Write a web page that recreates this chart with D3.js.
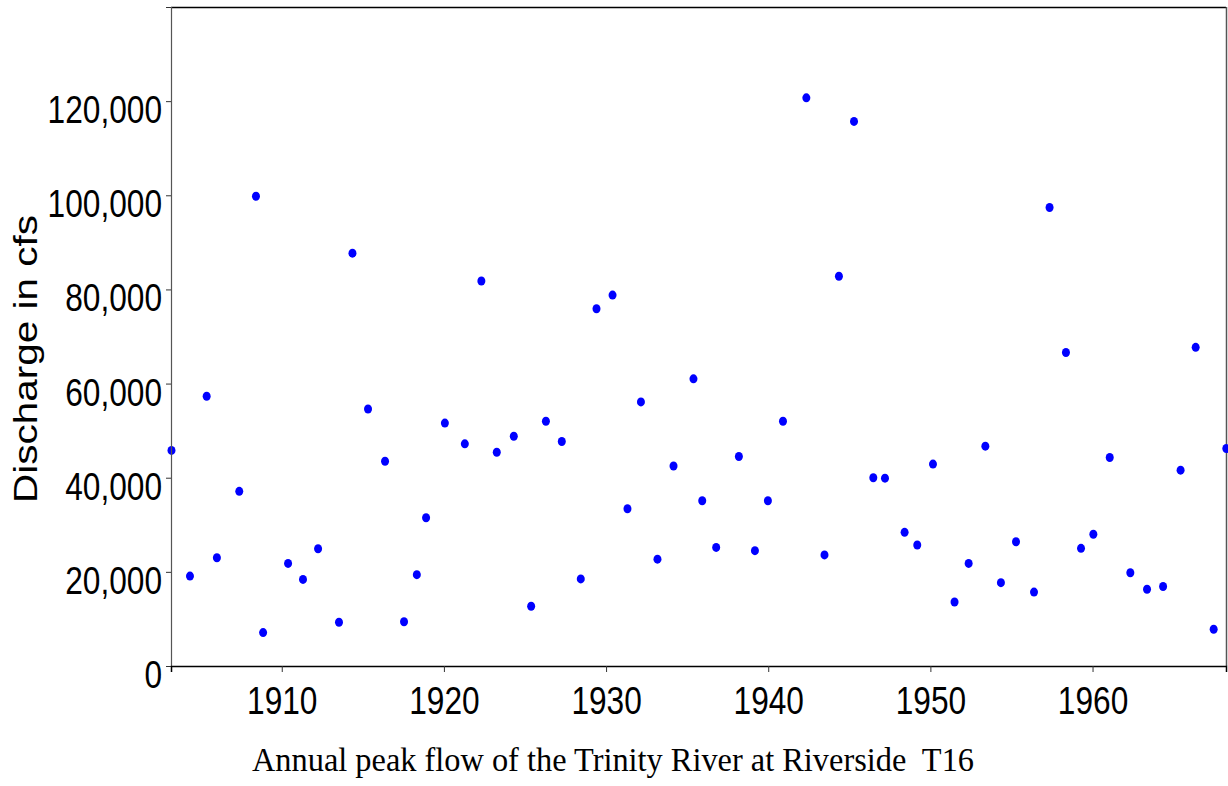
<!DOCTYPE html>
<html>
<head>
<meta charset="utf-8">
<script src="https://cdn.jsdelivr.net/npm/d3@7"></script>
<style>
  html, body { margin: 0; padding: 0; background: #fff; }
  svg { display: block; }
  .tick-label { font-family: "Liberation Sans Narrow", "Liberation Sans", Arial, sans-serif; font-size: 39px; fill: #000; }
</style>
</head>
<body>
<svg id="chart" width="1228" height="786"></svg>
<script>
// date of annual peak (decimal year) and peak discharge (cfs)
var peakDates = [
  1903.2, 1904.34, 1905.37, 1906.0, 1907.38, 1908.41, 1908.85, 1910.39, 1911.31, 1912.24,
  1913.53, 1914.36, 1915.32, 1916.37, 1917.54, 1918.33, 1918.9, 1920.06, 1921.29, 1922.31,
  1923.26, 1924.31, 1925.38, 1926.29, 1927.27, 1928.44, 1929.41, 1930.4, 1931.32, 1932.15,
  1933.17, 1934.16, 1935.39, 1935.93, 1936.79, 1938.19, 1939.18, 1939.98, 1940.91, 1942.35,
  1943.47, 1944.36, 1945.29, 1946.48, 1947.2, 1948.41, 1949.19, 1950.16, 1951.49, 1952.36,
  1953.39, 1954.35, 1955.28, 1956.39, 1957.35, 1958.36, 1959.29, 1960.05, 1961.06, 1962.33,
  1963.36, 1964.35, 1965.43, 1966.36, 1967.47, 1968.25
]
var peakFlows = [
  45800, 19100, 57300, 23000, 37100, 99800, 7100, 21800, 18400, 24900,
  9300, 87700, 54600, 43500, 9400, 19400, 31500, 51600, 47200, 81800,
  45400, 48800, 12700, 52000, 47700, 18500, 75900, 78800, 33400, 56100,
  22700, 42500, 61000, 35100, 25200, 44500, 24500, 35100, 52000, 120700,
  23600, 82800, 115700, 40000, 39900, 28400, 25700, 42900, 13600, 21800,
  46700, 17700, 26400, 15700, 97400, 66600, 25000, 28000, 44300, 19800,
  16300, 16900, 41600, 67700, 7800, 46200
]
var yearTicks = [1910, 1920, 1930, 1940, 1950, 1960]
var flowTicks = [0, 20000, 40000, 60000, 80000, 100000, 120000, 140000]
var yTitle = "Discharge in cfs"
var xTitle = "Annual peak flow of the Trinity River at Riverside  T16"

var plotLeft = 171, plotRight = 1226, plotTop = 7, plotBottom = 666

var svg = d3.select("#chart")

var x = d3.scaleLinear().domain([1903.17, 1968.23]).range([plotLeft, plotRight])
var y = d3.scaleLinear().domain([0, 140000]).range([plotBottom, plotTop])

// narrow look for the tick labels: squeeze each label to condensed glyph widths
function narrowWidth(s){
  var w = 0
  for (var i = 0; i < s.length; i++) w += (s[i] === ",") ? 8.8 : 17.6
  return w
}

// frame
svg.append("line").attr("x1", plotLeft).attr("x2", plotRight).attr("y1", plotTop + 0.5).attr("y2", plotTop + 0.5)
  .attr("stroke", "#000").attr("stroke-width", 1.5)
svg.append("line").attr("x1", plotRight + 0.5).attr("x2", plotRight + 0.5).attr("y1", plotTop).attr("y2", plotBottom)
  .attr("stroke", "#555").attr("stroke-width", 1.5)

// points (drawn before axes so half-dots at the edges sit under the lines)
svg.append("g").attr("id", "points")
  .selectAll("ellipse")
  .data(peakDates.map(function(d, i){ return {t: d, q: peakFlows[i]} }))
  .enter().append("ellipse")
    .attr("cx", function(d){ return x(d.t) })
    .attr("cy", function(d){ return y(d.q) })
    .attr("rx", 4)
    .attr("ry", 4.5)
    .style("fill", "#0000ff")

// y axis
var yAxis = d3.axisLeft(y).tickValues(flowTicks).tickSize(5).tickPadding(4)
  .tickFormat(function(d){ return d === 140000 ? "" : d3.format(",")(d) })
var gy = svg.append("g").attr("transform", "translate(" + plotLeft + ",0)").call(yAxis)
gy.select(".domain").attr("stroke", "#555").attr("stroke-width", 1.2)
gy.selectAll(".tick line").attr("stroke", "#333")
gy.selectAll(".tick text")
  .attr("class", "tick-label")
  .attr("dy", "0.55em")
  .attr("textLength", function(d){ var s = d === 140000 ? "" : d3.format(",")(d); return s ? narrowWidth(s) : null })
  .attr("lengthAdjust", "spacingAndGlyphs")

// x axis
var xAxis = d3.axisBottom(x).tickValues(yearTicks).tickSize(6).tickPadding(14)
  .tickFormat(d3.format("d"))
var gx = svg.append("g").attr("transform", "translate(0," + plotBottom + ")").call(xAxis)
gx.select(".domain").attr("stroke", "#000").attr("stroke-width", 1.5)
gx.selectAll(".tick line").attr("stroke", "#333")
gx.selectAll(".tick text")
  .attr("class", "tick-label")
  .attr("dy", "0.72em")
  .attr("textLength", function(d){ return narrowWidth(String(d)) })
  .attr("lengthAdjust", "spacingAndGlyphs")

// axis titles
svg.append("text")
  .attr("transform", "translate(37,359) rotate(-90)")
  .attr("text-anchor", "middle")
  .attr("textLength", 288)
  .attr("lengthAdjust", "spacingAndGlyphs")
  .style("font-family", "Liberation Sans, Arial, sans-serif")
  .style("font-size", "33px")
  .text(yTitle)

svg.append("text")
  .attr("x", 613)
  .attr("y", 771)
  .attr("text-anchor", "middle")
  .attr("textLength", 722)
  .attr("lengthAdjust", "spacingAndGlyphs")
  .style("font-family", "Liberation Serif, Times New Roman, serif")
  .style("font-size", "33px")
  .style("white-space", "pre")
  .text(xTitle)
</script>
</body>
</html>
